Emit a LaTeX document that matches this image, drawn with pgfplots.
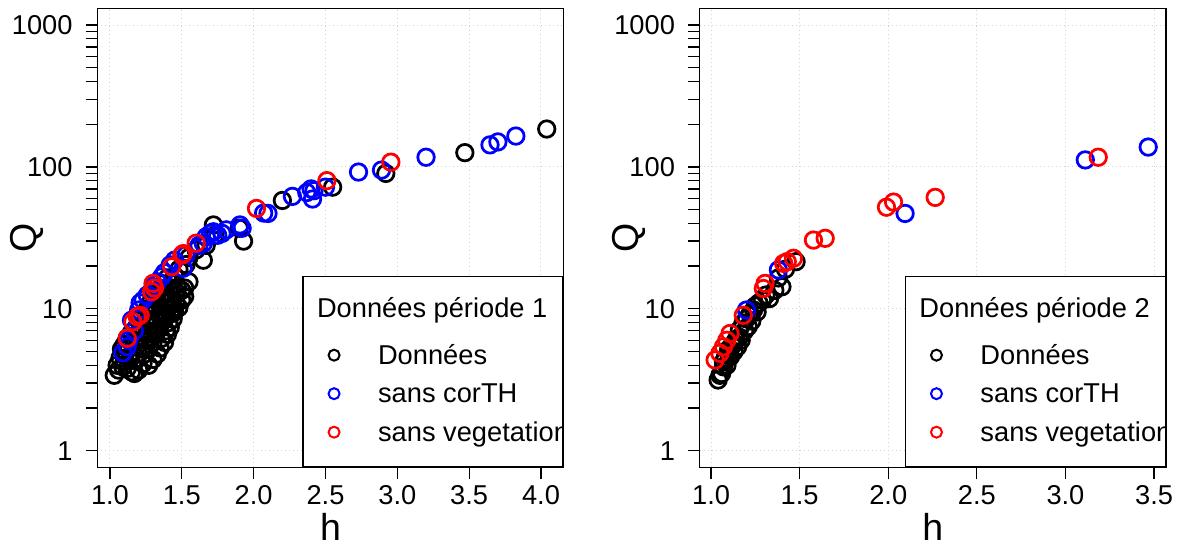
\documentclass[border=0pt]{standalone}
\usepackage{fontspec}
\setmainfont{Liberation Sans}
\usepackage{pgfplots}
\pgfplotsset{compat=1.18}
\definecolor{gridgray}{RGB}{211,211,211}
\newcommand{\tf}{\fontsize{10.9}{13}\selectfont}
\newcommand{\lf}{\fontsize{15}{18}\selectfont}

\pgfplotstableread{
h Q
1.03 3.4
1.05 4.0
1.06 3.7
1.07 4.5
1.08 5.2
1.09 3.9
1.10 4.3
1.10 5.6
1.11 4.9
1.12 3.8
1.12 6.2
1.13 5.3
1.14 4.5
1.15 6.8
1.15 3.6
1.16 5.0
1.17 3.5
1.17 6.0
1.18 4.3
1.18 7.3
1.19 5.5
1.20 4.8
1.20 8.2
1.20 3.7
1.21 6.4
1.22 5.2
1.22 9.0
1.23 7.0
1.23 4.1
1.24 4.8
1.24 6.0
1.25 8.0
1.25 5.5
1.26 10.0
1.26 6.6
1.27 5.2
1.27 7.5
1.27 4.0
1.28 9.0
1.28 11.0
1.29 6.2
1.29 8.2
1.30 5.8
1.30 10.5
1.30 4.4
1.31 7.0
1.31 12.5
1.32 9.5
1.32 6.6
1.33 8.0
1.33 11.5
1.33 4.8
1.34 7.2
1.34 13.5
1.35 9.0
1.35 10.5
1.35 5.3
1.36 8.0
1.36 12.0
1.36 6.2
1.37 15.0
1.37 9.5
1.38 11.0
1.38 8.5
1.38 5.8
1.39 13.0
1.39 7.0
1.40 10.0
1.40 16.5
1.40 6.6
1.41 12.0
1.41 8.0
1.42 9.2
1.42 11.5
1.42 7.4
1.43 14.0
1.44 10.0
1.44 8.5
1.45 9.5
1.45 17.0
1.46 12.5
1.46 11.0
1.47 14.0
1.48 19.0
1.48 10.2
1.50 13.5
1.50 11.5
1.52 14.0
1.52 12.2
1.53 20.5
1.55 15.5
1.55 23.0
1.60 26.0
1.65 22.0
1.67 28.0
1.72 39.0
1.73 33.0
1.90 37.0
1.93 30.0
2.20 58.0
2.55 72.0
2.92 90.0
3.47 126.0
4.04 185.0
}\blackA

\pgfplotstableread{
h Q
1.09 4.9
1.12 5.4
1.13 6.0
1.15 8.3
1.17 7.0
1.20 9.8
1.21 11.0
1.23 11.5
1.26 12.5
1.30 14.3
1.33 15.5
1.36 16.8
1.38 18.0
1.42 20.4
1.45 22.0
1.51 19.3
1.53 24.0
1.62 28.0
1.65 28.9
1.67 32.2
1.70 34.0
1.72 34.9
1.75 33.0
1.78 34.0
1.81 36.0
1.905 39.0
1.92 37.0
2.07 47.3
2.10 47.0
2.27 62.0
2.37 66.0
2.40 70.0
2.41 59.4
2.42 68.0
2.50 72.0
2.73 92.0
2.89 95.0
3.20 117.0
3.645 143.0
3.70 150.0
3.825 165.0
}\blueA

\pgfplotstableread{
h Q
1.12 6.2
1.16 8.1
1.19 8.8
1.21 9.0
1.29 13.2
1.30 15.1
1.31 14.0
1.43 19.8
1.50 23.9
1.51 24.5
1.60 29.0
2.02 51.0
2.51 80.0
2.955 108.0
}\redA

\pgfplotstableread{
h Q
1.04 3.15
1.05 3.4
1.06 3.5
1.07 3.9
1.07 4.24
1.08 4.5
1.09 4.0
1.10 4.8
1.10 5.2
1.11 4.6
1.12 5.5
1.13 5.0
1.13 5.7
1.14 6.0
1.15 5.4
1.16 6.3
1.16 7.1
1.17 6.0
1.18 7.9
1.19 7.0
1.20 8.5
1.21 7.5
1.22 9.2
1.23 8.2
1.24 9.8
1.25 10.5
1.26 9.5
1.27 11.0
1.29 11.5
1.31 12.5
1.33 11.8
1.36 13.5
1.40 14.3
1.38 16.5
1.42 19.0
1.48 21.5
}\blackB

\pgfplotstableread{
h Q
1.20 9.8
1.38 18.8
2.095 47.0
3.112 112.0
3.467 138.0
}\blueB

\pgfplotstableread{
h Q
1.023 4.36
1.05 4.86
1.07 5.4
1.089 6.0
1.107 6.7
1.182 9.0
1.295 13.9
1.305 15.1
1.41 20.9
1.43 21.5
1.465 22.7
1.578 30.5
1.644 31.4
1.99 52.0
2.03 56.5
2.265 61.0
3.185 117.0
}\redB

\pgfplotsset{
  mypanel/.style={
    scale only axis, width=186.56pt, height=183.5pt,
    ymin=0.7638, ymax=1306.2,
    ytick={1,10,100,1000}, yticklabels={1,10,100,1000},
    minor ytick={2,3,4,5,6,7,8,9,20,30,40,50,60,70,80,90,200,300,400,500,600,700,800,900},
    tick align=outside, tick pos=left,
    major tick length=4.7pt, minor tick length=4.7pt,
    tick style={black, line width=0.5pt},
    axis line style={line width=0.5pt},
    grid=major,
    major grid style={gridgray, line width=0.4pt, dash pattern=on 0.4pt off 1.2pt},
    xticklabel style={font=\tf, anchor=north, inner sep=0pt, yshift=-2.5pt},
    yticklabel style={font=\tf, anchor=east, inner sep=0pt, xshift=-5pt},
    xlabel={h}, ylabel={Q},
    xlabel style={font=\lf, at={(axis description cs:0.5,0)}, anchor=base, yshift=-29.1pt, inner sep=0pt},
    ylabel style={font=\lf, at={(axis description cs:-0.1304,0.5)}, anchor=base, inner sep=0pt},
    legend style={at={(1,0)}, anchor=south east, draw=black, line width=0.5pt, fill=white,
      inner xsep=0pt, inner ysep=8pt, row sep=5pt, column sep=0pt,
      cells={anchor=base west},
      nodes={inner sep=0pt, text height=8.3pt, text depth=2.1pt, font=\tf}},
  },
  mypts/.style={only marks, mark=o, mark size=3.3pt, color=#1, mark options={line width=1.1pt}, forget plot},
  legtitle/.style={legend image code/.code={\path[draw=none,fill=none] (0pt,-5.46pt) -- (0pt,0pt);}},
  legimg/.style={legend image code/.code={\path[draw=none,fill=none] (-12.4pt,0pt) -- (17.6pt,0pt); \draw[#1, line width=0.8pt, fill=none] (0pt,3.7pt) circle (2.2pt);}},
}

\begin{document}
\begin{tikzpicture}
\path[use as bounding box] (0,0) rectangle (471.6pt,218pt);
\begin{semilogyaxis}[mypanel, at={(38.92pt,31.08pt)}, anchor=south west,
  xmin=0.912, xmax=4.158,
  xtick={1,1.5,2,2.5,3,3.5,4}, xticklabels={1.0,1.5,2.0,2.5,3.0,3.5,4.0}]
\addplot[mypts=black] table[x=h,y=Q] {\blackA};
\addplot[mypts=blue] table[x=h,y=Q] {\blueA};
\addplot[mypts=red] table[x=h,y=Q] {\redA};
\addlegendimage{legtitle}
\addlegendentry{\hspace*{-24.4pt}Données période 1}
\addlegendimage{legimg=black}
\addlegendentry{\makebox[74pt][l]{Données}}
\addlegendimage{legimg=blue}
\addlegendentry{\makebox[74pt][l]{sans corTH}}
\addlegendimage{legimg=red}
\addlegendentry{\makebox[74pt][l]{sans vegetation}}
\end{semilogyaxis}
\begin{semilogyaxis}[mypanel, at={(279.88pt,31.08pt)}, anchor=south west,
  xmin=0.936, xmax=3.568,
  xtick={1,1.5,2,2.5,3,3.5}, xticklabels={1.0,1.5,2.0,2.5,3.0,3.5}]
\addplot[mypts=black] table[x=h,y=Q] {\blackB};
\addplot[mypts=blue] table[x=h,y=Q] {\blueB};
\addplot[mypts=red] table[x=h,y=Q] {\redB};
\addlegendimage{legtitle}
\addlegendentry{\hspace*{-24.4pt}Données période 2}
\addlegendimage{legimg=black}
\addlegendentry{\makebox[74pt][l]{Données}}
\addlegendimage{legimg=blue}
\addlegendentry{\makebox[74pt][l]{sans corTH}}
\addlegendimage{legimg=red}
\addlegendentry{\makebox[74pt][l]{sans vegetation}}
\end{semilogyaxis}
\fill[white] (225.75pt,31.3pt) rectangle (236pt,108pt);
\fill[white] (466.7pt,31.3pt) rectangle (476pt,108pt);
\end{tikzpicture}
\end{document}
